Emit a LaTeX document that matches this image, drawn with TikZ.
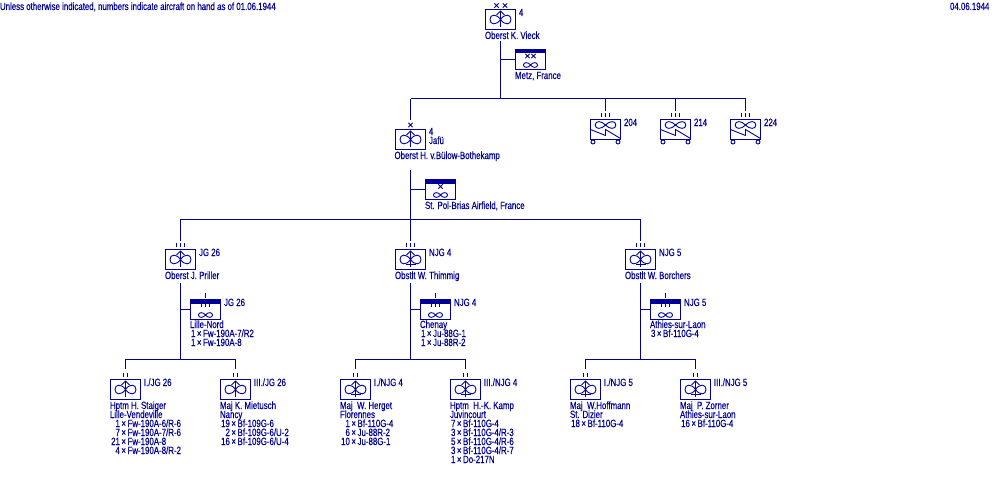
\documentclass[tikz,border=0pt]{standalone}
\usepackage{fontspec}
\setmainfont[FakeStretch=0.75,FakeBold=0.35]{Liberation Sans}
\definecolor{ink}{HTML}{000099}
\newcommand{\fnt}{\fontsize{10.5}{9}\selectfont\lineskiplimit=-10pt\relax}
\newcommand{\blk}[4]{\node[txt] (#1) at (#2,#3-8) {\rule{0pt}{8pt}#4};}
\newcommand{\ac}[3]{\makebox[#1pt][r]{#2\hspace{1.5pt}×}\hspace{1.6pt}#3}
\newcommand{\unitbox}[3]{\node[ubox] (#1) at (#2,#3) {};}
\newcommand{\field}[3]{\node[ubox] (#1) at (#2,#3) {};\fill[ink] (#2-15,#3-10) rectangle (#2+15,#3-6);}
\tikzset{
  txt/.style={anchor=north west,inner sep=0pt,outer sep=0pt,align=left,text=ink,font=\fnt},
  ubox/.style={draw=ink,line width=1pt,rectangle,minimum width=30pt,minimum height=20pt,inner sep=0pt,outer sep=0pt},
  conn/.style={draw=ink,line width=1pt},
  sy/.style={draw=ink,line width=0.9pt},
  prop/.pic={
    \draw[sy] (0,0) .. controls (4,-6) and (10.5,-5.5) .. (10.5,0) .. controls (10.5,5.5) and (4,6) .. (0,0)
      .. controls (-4,-6) and (-10.5,-5.5) .. (-10.5,0) .. controls (-10.5,5.5) and (-4,6) .. (0,0);
    \draw[sy] (0,7.5) -- (0,-8.5);
    \draw[sy] (-4,-4.5) -- (0,-8.5) -- (4,-4.5);
  },
  njbar/.pic={\draw[sy] (-5,5) -- (5,5);},
  lobes/.pic={
    \draw[sy] (0,0) .. controls (4,-4.5) and (10.3,-4.5) .. (10.3,0) .. controls (10.3,4.5) and (4,4.5) .. (0,0)
      .. controls (-4,-4.5) and (-10.3,-4.5) .. (-10.3,0) .. controls (-10.3,4.5) and (-4,4.5) .. (0,0);
  },
  small/.pic={
    \draw[sy] (0,0) .. controls (2,-3) and (7,-3.2) .. (7,0) .. controls (7,3.2) and (2,3) .. (0,0)
      .. controls (-2,-3) and (-7,-3.2) .. (-7,0) .. controls (-7,3.2) and (-2,3) .. (0,0);
  },
  crossone/.pic={\draw[sy,line width=0.8pt] (-2.2,-2.2) -- (2.2,2.2) (-2.2,2.2) -- (2.2,-2.2);},
  pipstwo/.pic={\draw[sy] (-1.8,-2.2) -- (-1.8,2.2) (1.8,-2.2) -- (1.8,2.2);},
  pipsthree/.pic={\draw[sy] (-4.3,-2.2) -- (-4.3,2.2) (0,-2.2) -- (0,2.2) (4.3,-2.2) -- (4.3,2.2);},
}
\begin{document}
\begin{tikzpicture}[x=1pt,y=-1pt]
\useasboundingbox[fill=white] (0,0) rectangle (1000,500);

% --- header
\blk{note}{0}{10}{Unless otherwise indicated, numbers indicate aircraft on hand as of 01.06.1944}
\blk{date}{950}{10}{04.06.1944}

% --- army level
\unitbox{hq}{500.5}{19.5}
\pic at (hq.center) {prop};
\pic at (496.5,5.5) {crossone}; \pic at (505,5.5) {crossone};
\blk{hqnum}{519}{16}{4}
\blk{hqname}{485}{39}{Oberst K. Vieck}
\coordinate (hqbot) at (500.5,41);
\field{hqf}{530.5}{59.5}
\pic at (530.5,65) {small};
\pic at (527.5,56) {crossone}; \pic at (533.5,56) {crossone};
\blk{hqft}{515}{79}{Metz, France}
\coordinate (busa) at (500.5,99);

% --- wheeled units
\foreach \n/\x in {204/605.5,214/675.5,224/745.5}{
  \unitbox{w\n}{\x}{129.5}
  \pic at (\x,125) {lobes};
  \draw[sy] (\x-15,129.5) -- (\x,135.5) -- (\x,129.5) -- (\x+15,138.5);
  \pic at (\x,115) {pipsthree};
  \draw[sy] (\x-12.5,142) circle (2); \draw[sy] (\x+12.5,142) circle (2);
  \coordinate (wt\n) at (\x,111);
  \blk{wl\n}{\x+18.5}{126}{\n}
}

% --- Jafu
\unitbox{jafu}{410.5}{139.5}
\pic at (jafu.center) {prop};
\pic at (410.5,125) {crossone};
\coordinate (jafut) at (410.5,120);
\blk{jafun}{429}{135}{4\\Jafü}
\blk{jafuname}{394.5}{159}{Oberst H. v.Bülow-Bothekamp}
\coordinate (jafub) at (410.5,170);
\field{jf}{440.5}{189.5}
\pic at (440.5,195) {small};
\pic at (440.5,186.5) {crossone};
\blk{jft}{425}{209}{St. Pol-Brias Airfield, France}
\coordinate (busb) at (410.5,219);

% --- regiments
\foreach \id/\x/\lab/\nm in {j/180.5/JG 26/Oberst J. Priller,n/410.5/NJG 4/Obstlt W. Thimmig,m/640.5/NJG 5/Obstlt W. Borchers}{
  \unitbox{r\id}{\x}{259.5}
  \pic at (r\id.center) {prop};
  \pic at (\x,245) {pipsthree};
  \coordinate (rt\id) at (\x,241);
  \coordinate (rb\id) at (\x,283);
  \blk{rl\id}{\x+18.5}{256}{\lab}
  \blk{rn\id}{\x-15.5}{279}{\nm}
  \field{f\id}{\x+25}{309.5}
  \pic at (\x+25,315) {small};
  \pic at (\x+25,304.5) {pipsthree};
  \draw[conn] (\x+25,292.5) -- (\x+25,297.5);
  \blk{fl\id}{\x+43.5}{306}{\lab}
  \coordinate (bus\id) at (\x,359);
}
\pic at (rn.center) {njbar};
\pic at (rm.center) {njbar};
\blk{ftj}{190}{328}{Lille-Nord\\\ac{11.5}{1}{Fw-190A-7/R2}\\\ac{11.5}{1}{Fw-190A-8}}
\blk{ftn}{420}{328}{Chenay\\\ac{11.5}{1}{Ju-88G-1}\\\ac{11.5}{1}{Ju-88R-2}}
\blk{ftm}{650}{328}{Athies-sur-Laon\\\ac{11.5}{3}{Bf-110G-4}}

% --- groups
\foreach \id/\x/\lab in {ja/125.5/{I./JG 26},jb/235.5/{III./JG 26},na/355.5/{I./NJG 4},nb/465.5/{III./NJG 4},ma/585.5/{I./NJG 5},mb/695.5/{III./NJG 5}}{
  \unitbox{g\id}{\x}{389.5}
  \pic at (g\id.center) {prop};
  \pic at (\x,375) {pipstwo};
  \coordinate (gt\id) at (\x,369);
  \blk{gl\id}{\x+18.5}{386}{\lab}
}
\foreach \id in {na,nb,ma,mb}{\pic at (g\id.center) {njbar};}
\blk{tja}{110}{409}{Hptm H. Staiger\\Lille-Vendeville\\\ac{16}{1}{Fw-190A-6/R-6}\\\ac{16}{7}{Fw-190A-7/R-6}\\\ac{16}{21}{Fw-190A-8}\\\ac{16}{4}{Fw-190A-8/R-2}}
\blk{tjb}{220}{409}{Maj K. Mietusch\\Nancy\\\ac{16}{19}{Bf-109G-6}\\\ac{16}{2}{Bf-109G-6/U-2}\\\ac{16}{16}{Bf-109G-6/U-4}}
\blk{tna}{340}{409}{Maj\ \ W. Herget\\Florennes\\\ac{16}{1}{Bf-110G-4}\\\ac{16}{6}{Ju-88R-2}\\\ac{16}{10}{Ju-88G-1}}
\blk{tnb}{450}{409}{Hptm\ \ H.-K. Kamp\\Juvincourt\\\ac{11.5}{7}{Bf-110G-4}\\\ac{11.5}{3}{Bf-110G-4/R-3}\\\ac{11.5}{5}{Bf-110G-4/R-6}\\\ac{11.5}{3}{Bf-110G-4/R-7}\\\ac{11.5}{1}{Do-217N}}
\blk{tma}{570}{409}{Maj\ \ W.Hoffmann\\St. Dizier\\\ac{16}{18}{Bf-110G-4}}
\blk{tmb}{680}{409}{Maj\ \ P. Zorner\\Athies-sur-Laon\\\ac{16}{16}{Bf-110G-4}}

% --- connectors
\draw[conn] (hqbot) -- (busa);
\draw[conn] (hqbot |- hqf.west) -- (hqf.west);
\draw[conn] (jafut |- busa) -- (wt224 |- busa);
\draw[conn] (jafut |- busa) -- (jafut);
\draw[conn] (wt204 |- busa) -- (wt204);
\draw[conn] (wt214 |- busa) -- (wt214);
\draw[conn] (wt224 |- busa) -- (wt224);
\draw[conn] (jafub) -- (busb);
\draw[conn] (jafub |- jf.west) -- (jf.west);
\draw[conn] (rtj |- busb) -- (rtm |- busb);
\foreach \id in {j,n,m}{
  \draw[conn] (rt\id |- busb) -- (rt\id);
  \draw[conn] (rb\id) -- (bus\id);
  \draw[conn] (rb\id |- f\id.west) -- (f\id.west);
}
\foreach \p/\a/\b in {j/ja/jb,n/na/nb,m/ma/mb}{
  \draw[conn] (gt\a |- bus\p) -- (gt\b |- bus\p);
  \draw[conn] (gt\a |- bus\p) -- (gt\a);
  \draw[conn] (gt\b |- bus\p) -- (gt\b);
}
\end{tikzpicture}
\end{document}
